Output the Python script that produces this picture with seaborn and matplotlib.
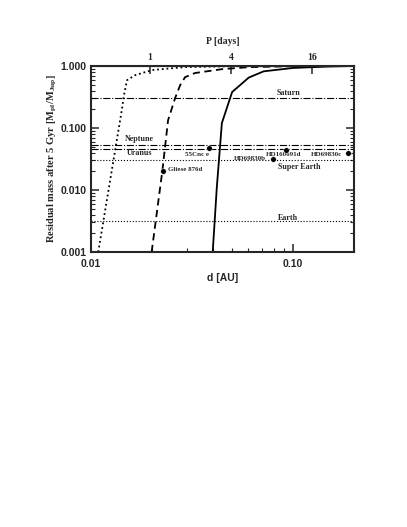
import numpy as np
import pandas as pd
import matplotlib
matplotlib.use("Agg")
import matplotlib.pyplot as plt
from matplotlib.ticker import FixedLocator, NullFormatter, LogLocator, NullLocator
import seaborn as sns

# evaporation tracks: distance [AU] vs residual mass fraction
d_dotted = [0.01086, 0.01393, 0.0142, 0.01456, 0.01507, 0.01652, 0.02005, 0.0292, 0.0487, 0.2]
m_dotted = [0.001, 0.133, 0.194, 0.34, 0.59, 0.71, 0.86, 0.96, 0.99, 1.0]

d_dashed = [0.01995, 0.02255, 0.02405, 0.02606, 0.0276, 0.0292, 0.0327, 0.0446, 0.0612, 0.097, 0.2]
m_dashed = [0.001, 0.0206, 0.133, 0.303, 0.49, 0.66, 0.77, 0.89, 0.96, 0.99, 1.0]

d_solid = [0.0400, 0.0419, 0.0444, 0.0499, 0.0603, 0.0715, 0.100, 0.15, 0.2]
m_solid = [0.001, 0.0109, 0.12, 0.38, 0.65, 0.82, 0.93, 0.98, 1.0]

# reference planet masses [M_Jup]
ref_names = ["Saturn", "Neptune", "Uranus", "Super Earth", "Earth"]
ref_mass = [0.30, 0.054, 0.046, 0.030, 0.00315]
ref_style = ["-.", "-.", "-.", ":", ":"]

# known close-in planets
pl_names = ["Gliese 876d", "55Cnc e", "HD69830b", "HD160691d", "HD69830c"]
pl_dist = [0.0227, 0.0384, 0.0796, 0.0922, 0.187]
pl_mass = [0.0206, 0.047, 0.032, 0.0436, 0.039]

period_ticks = [1, 4, 16]

SERIF = "Liberation Serif"
SANS = "Liberation Sans"


def au_to_days(a):
    a = np.clip(a, 1e-6, None)
    return 365.25 * a ** 1.5


def days_to_au(p):
    p = np.clip(p, 1e-6, None)
    return (p / 365.25) ** (2.0 / 3.0)


sns.set_style("ticks")
plt.rcParams["mathtext.fontset"] = "custom"
plt.rcParams["mathtext.bf"] = "Liberation Serif:bold"
plt.rcParams["mathtext.rm"] = "Liberation Serif"

fig = plt.figure(figsize=(4.07, 5.27), dpi=100)
ax = fig.add_axes([0.2236, 0.5218, 0.6462, 0.353])

tracks = pd.concat([
    pd.DataFrame({"d": d_dotted, "m": m_dotted, "track": "a"}),
    pd.DataFrame({"d": d_dashed, "m": m_dashed, "track": "b"}),
    pd.DataFrame({"d": d_solid, "m": m_solid, "track": "c"}),
])
sns.lineplot(data=tracks, x="d", y="m", style="track", color="black",
             dashes={"a": (1, 1.6), "b": (4, 2.5), "c": ""}, lw=1.3,
             legend=False, ax=ax, sort=False, estimator=None)

for name, m, ls in zip(ref_names, ref_mass, ref_style):
    ax.axhline(m, color="black", ls=ls, lw=0.8)

sns.scatterplot(x=pl_dist, y=pl_mass, color="black", s=16, ax=ax, zorder=5)

ax.set_xscale("log")
ax.set_yscale("log")
ax.set_xlim(0.01, 0.2)
ax.set_ylim(0.001, 1.0)

# reference labels
lbl = dict(fontfamily=SERIF, fontweight="bold", ha="center", va="center", fontsize=5.8)
ax.text(0.0944, 0.365, "Saturn", **lbl)
ax.text(0.0173, 0.0656, "Neptune", **lbl)
ax.text(0.0173, 0.039, "Uranus", **lbl)
ax.text(0.107, 0.0231, "Super Earth", **lbl)
ax.text(0.0944, 0.0035, "Earth", **lbl)

pl = dict(fontfamily=SERIF, fontweight="bold", fontsize=5, va="center")
ax.text(0.0240, 0.0214, "Gliese 876d", ha="left", **pl)
ax.text(0.0384, 0.0375, "55Cnc e", ha="right", **pl)
ax.text(0.0735, 0.0323, "HD69830b", ha="right", **pl)
ax.text(0.0897, 0.0375, "HD160691d", ha="center", **pl)
ax.text(0.175, 0.0375, "HD69830c", ha="right", **pl)

ax.set_yticks([0.001, 0.01, 0.1, 1.0])
ax.set_yticklabels(["0.001", "0.010", "0.100", "1.000"])
ax.set_xticks([0.01, 0.1])
ax.set_xticklabels(["0.01", "0.10"])
ax.xaxis.set_minor_locator(LogLocator(base=10, subs=np.arange(2, 10)))
ax.xaxis.set_minor_formatter(NullFormatter())
ax.yaxis.set_minor_locator(LogLocator(base=10, subs=np.arange(2, 10)))
ax.yaxis.set_minor_formatter(NullFormatter())
ax.tick_params(which="both", direction="in", top=False, right=True)
ax.tick_params(which="major", length=6, width=1.1, labelsize=7.5)
ax.tick_params(axis="x", which="major", pad=5)
ax.tick_params(axis="y", which="major", pad=3)
ax.tick_params(which="minor", length=3, width=0.8)
for t in ax.get_xticklabels() + ax.get_yticklabels():
    t.set_fontfamily(SANS)
    t.set_fontweight("bold")
for s in ax.spines.values():
    s.set_linewidth(1.5)
    s.set_visible(True)

ax.set_xlabel("d [AU]", fontfamily=SANS, fontweight="bold", fontsize=7.5, labelpad=3)
ax.set_ylabel("Residual mass after 5 Gyr [M$_{\\mathbf{pl}}$/M$_{\\mathbf{Jup}}$]",
              fontfamily=SERIF, fontweight="bold", fontsize=7.6, labelpad=1.5)

top = ax.secondary_xaxis("top", functions=(au_to_days, days_to_au))
top.xaxis.set_major_locator(FixedLocator(period_ticks))
top.xaxis.set_minor_locator(NullLocator())
top.set_xticklabels([str(p) for p in period_ticks])
top.tick_params(direction="in", length=6, width=1.1, labelsize=7, pad=3)
for t in top.get_xticklabels():
    t.set_fontfamily(SERIF)
    t.set_fontweight("bold")
top.set_xlabel("P [days]", fontfamily=SERIF, fontweight="bold", fontsize=7, labelpad=6)

fig.savefig("out.png", dpi=100)
